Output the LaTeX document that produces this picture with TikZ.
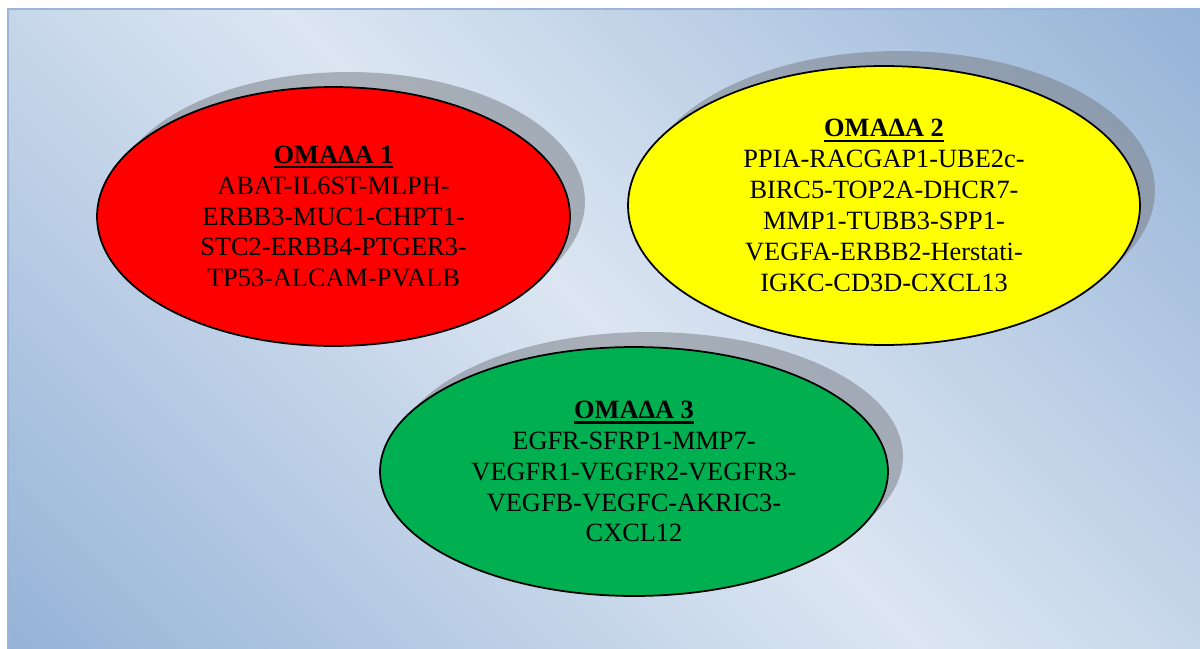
\documentclass[tikz,border=0pt]{standalone}
\usepackage{fontspec}
\setmainfont{Liberation Serif}
\usetikzlibrary{shapes.geometric,shadows}
\definecolor{panelfade}{HTML}{95B3D7}
\definecolor{panellight}{HTML}{DCE6F2}
\definecolor{panelrule}{HTML}{9BB5D8}
\definecolor{groupred}{HTML}{FF0000}
\definecolor{groupyellow}{HTML}{FFFF00}
\definecolor{groupgreen}{HTML}{00B050}
\definecolor{groupshade}{HTML}{767A80}
\pgfdeclarehorizontalshading{panelband}{100bp}{%
  color(0bp)=(panelfade); color(14.6bp)=(panelfade); color(50bp)=(panellight);
  color(85.4bp)=(panelfade); color(100bp)=(panelfade)}
\newsavebox{\headbox}
\newcommand{\grouphead}[1]{%
  \sbox{\headbox}{\bfseries #1}%
  \rlap{\rule[-3pt]{\wd\headbox}{1.4pt}}\usebox{\headbox}}

\begin{document}
\begin{tikzpicture}[
  x=0.02cm,
  y=-0.02cm,
  every node/.style={font=\fontsize{15}{17.6}\selectfont, black},
  panel/.style={draw=panelrule, line width=1.6pt, shading=panelband, shading angle=45},
  group/.style={ellipse, draw=black, line width=1pt, align=center, inner sep=0pt,
    drop shadow={shadow xshift=0.3cm, shadow yshift=0.3cm, fill=groupshade, opacity=0.5}}
]
  % ---- page and background panel ---------------------------------------
  \useasboundingbox (0,0) rectangle (1200,649);
  \clip (0,0) rectangle (1200,649);
  \fill[white] (0,0) rectangle (1200,649);
  \shadedraw[panel] (8,9) rectangle (1206,655);

  % ---- group 1 ---------------------------------------------------------
  \node[group, fill=groupred, minimum width=9.46cm, minimum height=5.18cm]
    (omada1) at (333.5,216.5)
    {\grouphead{ΟΜΑΔΑ 1}\\ ABAT-IL6ST-MLPH-\\ ERBB3-MUC1-CHPT1-\\
     STC2-ERBB4-PTGER3-\\ TP53-ALCAM-PVALB};

  % ---- group 2 ---------------------------------------------------------
  \node[group, fill=groupyellow, minimum width=10.24cm, minimum height=5.58cm]
    (omada2) at (884,205.5)
    {\grouphead{ΟΜΑΔΑ 2}\\ PPIA-RACGAP1-UBE2c-\\ BIRC5-TOP2A-DHCR7-\\
     MMP1-TUBB3-SPP1-\\ VEGFA-ERBB2-Herstati-\\ IGKC-CD3D-CXCL13};

  % ---- group 3 ---------------------------------------------------------
  \node[group, fill=groupgreen, minimum width=10.16cm, minimum height=4.98cm]
    (omada3) at (634,471.5)
    {\grouphead{ΟΜΑΔΑ 3}\\ EGFR-SFRP1-MMP7-\\ VEGFR1-VEGFR2-VEGFR3-\\
     VEGFB-VEGFC-AKRIC3-\\ CXCL12};
\end{tikzpicture}
\end{document}
